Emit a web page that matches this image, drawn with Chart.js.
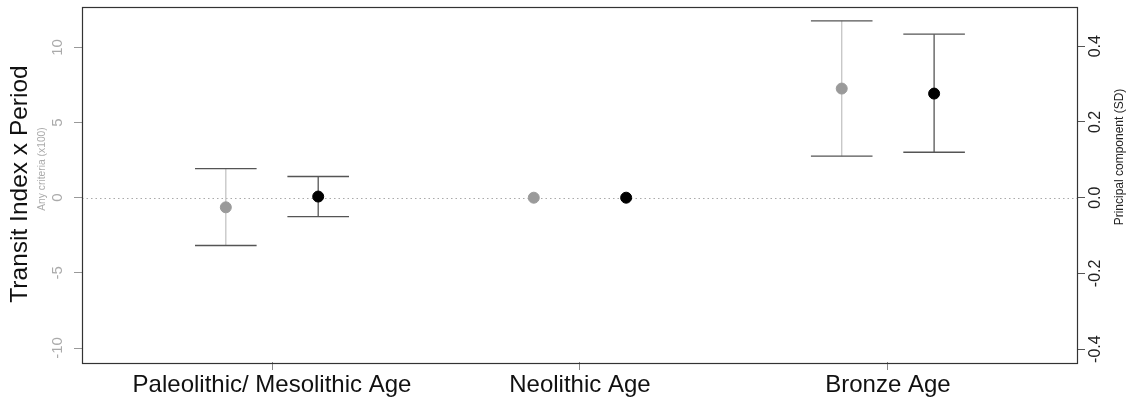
<!DOCTYPE html>
<html>
<head>
<meta charset="utf-8">
<script src="https://cdn.jsdelivr.net/npm/chart.js@4"></script>
<style>
  body { margin: 0; background: #fff; }
  #wrap { width: 1129px; height: 401px; }
</style>
</head>
<body>
<div id="wrap"><canvas id="periodChart" width="1129" height="401"></canvas></div>
<script>
// Data
const categories = ["Paleolithic/ Mesolithic Age", "Neolithic Age", "Bronze Age"];
const transitMean = [-0.64, 0, 7.26];   // Any criteria (x100), left axis
const transitLow = [-3.18, 0, 2.76];
const transitHigh = [1.94, 0, 11.77];
const pcMean = [0.003, 0, 0.275];       // Principal component (SD), right axis
const pcLow = [-0.05, 0, 0.12];
const pcHigh = [0.056, 0, 0.432];
const leftTicks = [-10, -5, 0, 5, 10];
const rightTicks = [-0.4, -0.2, 0, 0.2, 0.4];

const OFFSET = 0.15; // horizontal dodge of the two series
const CAP = 0.1;     // half width of error bar caps

function pts(means, dx) {
  return means.map((v, i) => ({ x: i + 1 + dx, y: v }));
}

// error bars, zero line, box and rotated axis texts
const extras = {
  id: "extras",
  beforeDatasetsDraw(chart) {
    const { ctx, chartArea: a, scales } = chart;
    const x = scales.x, yl = scales.y, yr = scales.y1;

    // dotted zero line
    ctx.save();
    ctx.strokeStyle = "#aaa";
    ctx.lineWidth = 1.2;
    ctx.setLineDash([1.5, 3]);
    const y0 = Math.round(yl.getPixelForValue(0)) + 0.5;
    ctx.beginPath();
    ctx.moveTo(a.left, y0);
    ctx.lineTo(a.right, y0);
    ctx.stroke();
    ctx.restore();

    // error bars
    function bars(low, high, scale, dx, stemColor) {
      low.forEach((lo, i) => {
        const hi = high[i];
        if (lo === hi) return;
        const cx = x.getPixelForValue(i + 1 + dx);
        const x1 = x.getPixelForValue(i + 1 + dx - CAP);
        const x2 = x.getPixelForValue(i + 1 + dx + CAP);
        const py1 = scale.getPixelForValue(lo);
        const py2 = scale.getPixelForValue(hi);
        ctx.save();
        ctx.lineWidth = 1.3;
        ctx.strokeStyle = stemColor;
        ctx.beginPath();
        ctx.moveTo(cx, py1);
        ctx.lineTo(cx, py2);
        ctx.stroke();
        ctx.strokeStyle = "#555";
        ctx.beginPath();
        ctx.moveTo(x1, py1); ctx.lineTo(x2, py1);
        ctx.moveTo(x1, py2); ctx.lineTo(x2, py2);
        ctx.stroke();
        ctx.restore();
      });
    }
    bars(transitLow, transitHigh, yl, -OFFSET, "#c4c4c4");
    bars(pcLow, pcHigh, yr, OFFSET, "#555");
  },
  afterDraw(chart) {
    const { ctx, chartArea: a, scales } = chart;

    // box
    ctx.save();
    ctx.strokeStyle = "#333";
    ctx.lineWidth = 1.2;
    ctx.strokeRect(Math.round(a.left) + 0.5, Math.round(a.top) + 0.5,
      Math.round(a.right - a.left), Math.round(a.bottom - a.top));
    ctx.restore();

    function vtext(str, px, py, font, color) {
      ctx.save();
      ctx.translate(px, py);
      ctx.rotate(-Math.PI / 2);
      ctx.font = font;
      ctx.fillStyle = color;
      ctx.textAlign = "center";
      ctx.textBaseline = "middle";
      ctx.fillText(str, 0, 0);
      ctx.restore();
    }

    leftTicks.forEach(v => vtext(String(v), 58, scales.y.getPixelForValue(v), "15px 'Liberation Sans', Arial", "#aaa"));
    rightTicks.forEach(v => vtext(v.toFixed(1), 1096, scales.y1.getPixelForValue(v), "16px 'Liberation Sans', Arial", "#222"));

    vtext("Transit Index x Period", 20, 184, "24.5px 'Liberation Sans', Arial", "#111");
    vtext("Any criteria (x100)", 42, 169, "10.3px 'Liberation Sans', Arial", "#aaa");
    vtext("Principal component (SD)", 1120, 157, "12px 'Liberation Sans', Arial", "#222");
  }
};

const ctx = document.getElementById("periodChart").getContext("2d");

new Chart(ctx, {
  type: "scatter",
  data: {
    datasets: [
      {
        label: "Any criteria (x100)",
        data: pts(transitMean, -OFFSET),
        yAxisID: "y",
        backgroundColor: "#9a9a9a",
        borderColor: "#9a9a9a",
        pointRadius: 5.5,
        pointHoverRadius: 5.5
      },
      {
        label: "Principal component (SD)",
        data: pts(pcMean, OFFSET),
        yAxisID: "y1",
        backgroundColor: "#000",
        borderColor: "#000",
        pointRadius: 5.5,
        pointHoverRadius: 5.5
      }
    ]
  },
  options: {
    responsive: false,
    animation: false,
    layout: { padding: { top: 5, left: 0, right: 0, bottom: 0 } },
    plugins: { legend: { display: false }, tooltip: { enabled: false } },
    scales: {
      x: {
        type: "linear",
        min: 0.383,
        max: 3.614,
        afterBuildTicks: s => { s.ticks = [1, 2, 3].map(v => ({ value: v })); },
        afterFit: s => { s.height = 39; },
        border: { display: false },
        grid: { drawOnChartArea: false, drawTicks: true, tickLength: 8, color: "#888" },
        ticks: {
          padding: 1,
          color: "#111",
          font: { family: "'Liberation Sans', Arial", size: 24 },
          maxRotation: 0,
          autoSkip: false,
          callback: v => categories[Math.round(v) - 1]
        }
      },
      y: {
        position: "left",
        min: -10.93,
        max: 12.72,
        afterBuildTicks: s => { s.ticks = leftTicks.map(v => ({ value: v })); },
        afterFit: s => { s.width = 82; },
        border: { display: false },
        grid: { drawOnChartArea: false, drawTicks: true, tickLength: 8, color: "#999" },
        ticks: { display: false }
      },
      y1: {
        position: "right",
        min: -0.434,
        max: 0.505,
        afterBuildTicks: s => { s.ticks = rightTicks.map(v => ({ value: v })); },
        afterFit: s => { s.width = 52; },
        border: { display: false },
        grid: { drawOnChartArea: false, drawTicks: true, tickLength: 8, color: "#555" },
        ticks: { display: false }
      }
    }
  },
  plugins: [extras]
});
</script>
</body>
</html>
